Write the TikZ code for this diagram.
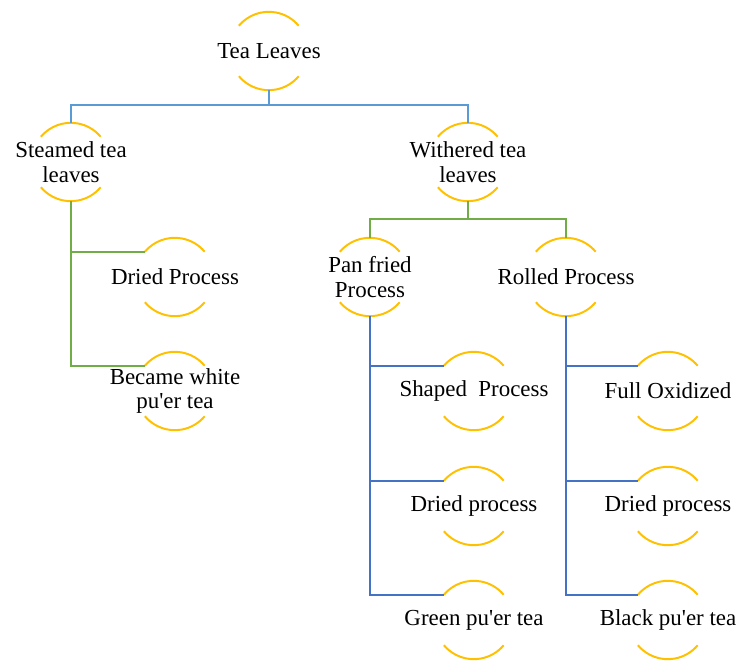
\documentclass[tikz,border=0pt]{standalone}
\usepackage{fontspec}
\setmainfont{Liberation Serif}
\usepackage{tikz}

\definecolor{arcgold}{HTML}{FFC000}
\definecolor{topblue}{HTML}{5B9BD5}
\definecolor{lowblue}{HTML}{4472C4}
\definecolor{leafgreen}{HTML}{70AD47}

\tikzset{
  bub/.style={circle, minimum size=1.95cm, inner sep=0pt,
    label={[lbl]center:#1}},
  lbl/.style={align=center, inner sep=0pt,
    font=\fontsize{16.3}{17.5}\selectfont},
  arcline/.style={draw=arcgold, line width=1.4pt},
  blueline/.style={draw=topblue, line width=1.4pt},
  lowline/.style={draw=lowblue, line width=1.4pt},
  greenline/.style={draw=leafgreen, line width=1.4pt}
}

\begin{document}
\begin{tikzpicture}[x=0.025cm, y=-0.025cm]
\useasboundingbox (0, 0) rectangle (742, 661);

\node[bub={Tea Leaves}] (tea) at (269, 51) {};
\node[bub={Steamed tea\\leaves}] (steam) at (71, 162) {};
\node[bub={Withered tea\\leaves}] (wither) at (468, 162) {};
\node[bub={Dried Process}] (dry1) at (175, 277) {};
\node[bub={Became white\\pu\textquotesingle er tea}] (white) at (175, 391) {};
\node[bub={Pan fried\\Process}] (pan) at (370, 277) {};
\node[bub={Rolled Process}] (roll) at (566, 277) {};
\node[bub={Shaped\ \ Process}] (shape) at (474, 391) {};
\node[bub={Dried process}] (dry2) at (474, 506) {};
\node[bub={Green pu\textquotesingle er tea}] (green) at (474, 620) {};
\node[bub={Full Oxidized}] (full) at (668, 391) {};
\node[bub={Dried process}] (dry3) at (668, 506) {};
\node[bub={Black pu\textquotesingle er tea}] (black) at (668, 620) {};

% arcs above and below each text
\foreach \n in {tea, steam, wither, dry1, white, pan, roll,
                shape, dry2, green, full, dry3, black}
  \draw[arcline] (\n.140) arc[start angle=140, end angle=40, radius=0.975cm]
                 (\n.220) arc[start angle=220, end angle=320, radius=0.975cm];

\draw[blueline] (tea.south) -- ++(0, 15) -| (steam.north);
\draw[blueline] (tea.south) -- ++(0, 15) -| (wither.north);

\draw[greenline] (steam.south) |- (dry1.140);
\draw[greenline] (steam.south) |- (white.140);
\draw[greenline] (wither.south) -- ++(0, 18) -| (pan.north);
\draw[greenline] (wither.south) -- ++(0, 18) -| (roll.north);

\draw[lowline] (pan.south) |- (shape.140);
\draw[lowline] (pan.south) |- (dry2.140);
\draw[lowline] (pan.south) |- (green.140);
\draw[lowline] (roll.south) |- (full.140);
\draw[lowline] (roll.south) |- (dry3.140);
\draw[lowline] (roll.south) |- (black.140);

\end{tikzpicture}
\end{document}
